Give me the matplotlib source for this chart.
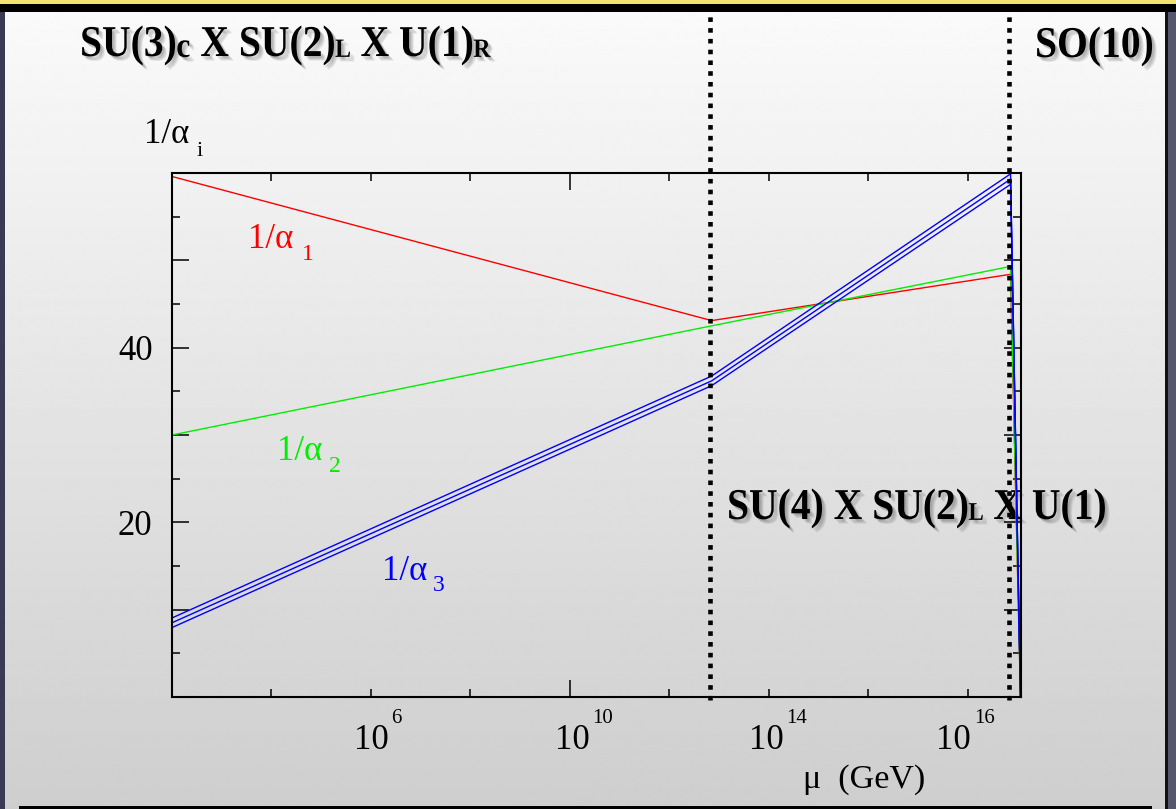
import numpy as np
import matplotlib
matplotlib.use("Agg")
import matplotlib.pyplot as plt
import matplotlib.patheffects as pe
from matplotlib.textpath import TextPath
from matplotlib.font_manager import FontProperties
from matplotlib.patches import PathPatch, Rectangle
from matplotlib.transforms import Affine2D, blended_transform_factory

plt.rcParams['font.family'] = ['Liberation Serif', 'DejaVu Serif']

# inverse couplings at the threshold scales, x = log10(mu / GeV)
log_mu = [2.0, 12.85, 18.86, 19.06]
inv_alpha1 = [59.6, 43.1, 48.4, 0.0]
inv_alpha2 = [30.0, 42.5, 49.3, 0.0]
inv_alpha3 = [8.5, 36.2, 59.3, 0.0]
inv_alpha3_hi = [9.05, 36.75, 59.9, 0.0]
inv_alpha3_lo = [7.95, 35.65, 58.7, 0.0]

# symmetry breaking scales (dotted lines)
breaking_log_mu = [12.82, 18.82]

xtick_exps = [6, 10, 14, 16]
xtick_label_pos = [6.0, 10.05, 13.95, 17.72]
ytick_vals = [0, 10, 20, 30, 40, 50, 60]
ytick_labels = ['', '', '20', '', '40', '', '']

mu = [10 ** v for v in log_mu]

W, H = 1176, 809
fig = plt.figure(figsize=(W / 100, H / 100), dpi=100)

# slide background, drawn in pixel coordinates (y down)
bg = fig.add_axes([0, 0, 1, 1], zorder=0)
bg.set_xlim(0, W)
bg.set_ylim(H, 0)
bg.axis('off')

shade = np.linspace(250, 206, 400)[:, None] / 255.0
bg.imshow(shade, cmap='gray', vmin=0, vmax=1, aspect='auto',
          extent=(5, 1166, H, 11.5), origin='upper', interpolation='bilinear')
bg.add_patch(Rectangle((0, 0), W, 3.5, color='#f2e46e', lw=0))
bg.add_patch(Rectangle((0, 3.5), W, 8, color='black', lw=0))
bg.add_patch(Rectangle((0, 11.5), 5, H, color='#3a3a55', lw=0))
bg.add_patch(Rectangle((1165, 11.5), 2.5, H, color='#111111', lw=0))
bg.add_patch(Rectangle((1167.5, 11.5), 8.5, H, color='#56566f', lw=0))
bg.add_patch(Rectangle((19, 805.5), 1133, 4, color='black', lw=0))

bold_serif = FontProperties(family='Liberation Serif', weight='bold')
# soft drop shadow: a few faint offset copies
shadow = [pe.SimplePatchShadow(offset=(d, -d), shadow_rgbFace='0.3', alpha=0.12)
          for d in (1.2, 1.9, 2.6, 3.3)] + [pe.Normal()]


def group_label(x0, y0, runs, em=44, sx=0.9):
    # runs of (text, relative size, drop below baseline in em)
    pen = 0.0
    for s, rel, drop in runs:
        tp = TextPath((0, 0), s, size=em * rel, prop=bold_serif)
        tr = (Affine2D().translate(pen, -drop * em).scale(sx, -1).translate(x0, y0)
              + bg.transData)
        bg.add_patch(PathPatch(tp, facecolor='black', edgecolor='none',
                               transform=tr, path_effects=shadow))
        pen += tp.get_extents().x1 + 0.03 * em * rel


group_label(80, 56, [("SU(3)", 1, 0), ("c", 0.8, 0.02), (" X SU(2)", 1, 0),
                     ("L", 0.6, 0.02), (" X U(1)", 1, 0), ("R", 0.6, 0.02)])
group_label(1035, 57, [("SO(10)", 1, 0)])
group_label(727, 519, [("SU(4) X SU(2)", 1, 0), ("L", 0.58, 0.02), (" X U(1)", 1, 0)])

# main plot
ax = fig.add_axes([172 / W, (H - 697) / H, 849 / W, 524 / H], zorder=1)
ax.patch.set_visible(False)

ax.plot(mu, inv_alpha1, color='#ff0000', lw=1.0)
ax.plot(mu, inv_alpha2, color='#00ee00', lw=1.0)
for band in (inv_alpha3_hi, inv_alpha3, inv_alpha3_lo):
    ax.plot(mu, band, color='#0000ff', lw=1.0)

for s in breaking_log_mu:
    ax.axvline(10 ** s, ymin=-0.006, ymax=(697 - 13) / 524, clip_on=False,
               color='black', lw=3.3, dashes=(1, 1.35), zorder=5)

ax.set_xscale('log')
ax.set_xlim(1e2, 10 ** 19.07)
ax.set_ylim(0, 60)
ax.set_xticks([1e10], labels=[''])
ax.set_xticks([10.0 ** k for k in (2, 4, 6, 8, 12, 14, 16, 18)],
              labels=[''] * 8, minor=True)
ax.set_yticks(ytick_vals, labels=ytick_labels)
ax.set_yticks(range(5, 60, 10), minor=True)
ax.tick_params(which='both', direction='in', top=True, right=True,
               width=1.1, color='black')
ax.tick_params(which='major', length=12, labelsize=25, pad=14)
ax.tick_params(which='minor', length=6)
for sp in ax.spines.values():
    sp.set_linewidth(1.5)

xlab_tr = blended_transform_factory(ax.transData, ax.transAxes)
for e, p in zip(xtick_exps, xtick_label_pos):
    ax.text(10 ** p, -0.1, "10", transform=xlab_tr, fontsize=25,
            ha='center', va='baseline', clip_on=False)
    ax.annotate(str(e), xy=(10 ** p, -0.1), xycoords=xlab_tr,
                xytext=(20, 26.5), textcoords='offset pixels', fontsize=15,
                ha='left', va='baseline', annotation_clip=False)

bg.text(803, 788, "\u03bc  (GeV)", fontsize=24.5, va='baseline')

# axis and curve labels
bg.text(144, 143, "1/\u03b1", fontsize=25, va='baseline')
bg.text(197, 156, "i", fontsize=16, va='baseline')
bg.text(248, 248, "1/\u03b1", fontsize=25, va='baseline', color='#ff0000')
bg.text(302, 260, "1", fontsize=17, va='baseline', color='#ff0000')
bg.text(277, 460, "1/\u03b1", fontsize=25, va='baseline', color='#00ee00')
bg.text(329, 472, "2", fontsize=17, va='baseline', color='#00ee00')
bg.text(382, 580, "1/\u03b1", fontsize=25, va='baseline', color='#0000ff')
bg.text(433, 591, "3", fontsize=17, va='baseline', color='#0000ff')

fig.savefig("out.png", dpi=100)
